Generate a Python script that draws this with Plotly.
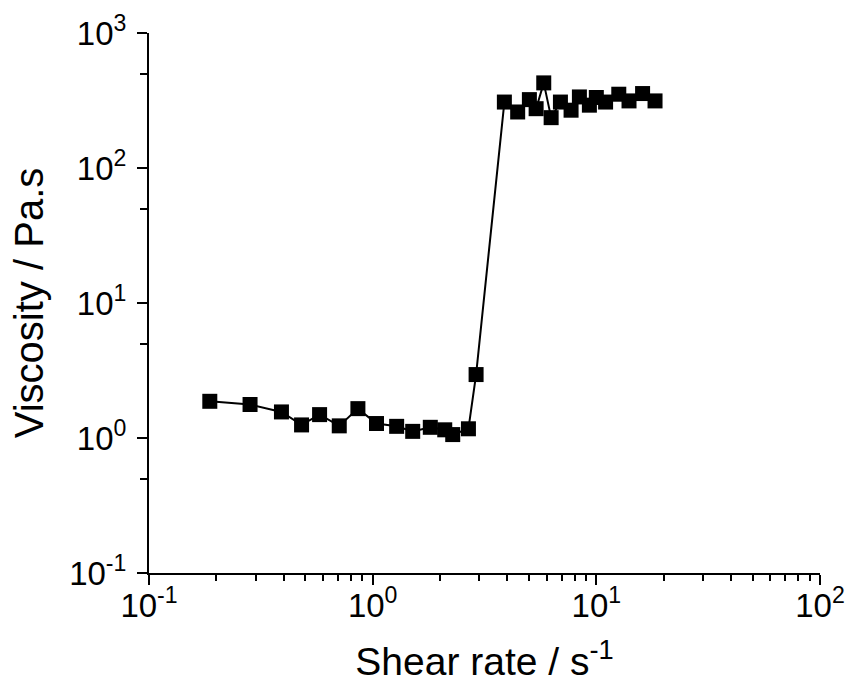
import plotly.graph_objects as go

shear_rate = [0.187, 0.283, 0.391, 0.481, 0.579, 0.709, 0.859, 1.04, 1.28, 1.51,
              1.81, 2.10, 2.28, 2.68, 2.90,
              3.88, 4.45, 5.02, 5.38, 5.82, 6.28, 6.91, 7.71, 8.40, 9.31,
              10.0, 11.0, 12.6, 14.0, 16.1, 18.3]
viscosity = [1.87, 1.77, 1.56, 1.25, 1.49, 1.23, 1.65, 1.28, 1.22, 1.12,
             1.20, 1.15, 1.06, 1.17, 2.95,
             308, 260, 321, 275, 427, 236, 308, 268, 336, 292,
             333, 308, 352, 314, 356, 314]

x_tickvals = [0.1, 1, 10, 100]
x_ticktext = ["10<sup>-1</sup>", "10<sup>0</sup>", "10<sup>1</sup>", "10<sup>2</sup>"]
x_minor = [0.2, 0.3, 0.4, 0.5, 0.6, 0.7, 0.8, 0.9,
           2, 3, 4, 5, 6, 7, 8, 9,
           20, 30, 40, 50, 60, 70, 80, 90]
y_tickvals = [0.1, 1, 10, 100, 1000]
y_ticktext = ["10<sup>-1</sup>", "10<sup>0</sup>", "10<sup>1</sup>", "10<sup>2</sup>", "10<sup>3</sup>"]
y_minor = [0.5, 5, 50, 500]

FONT = "Liberation Sans, Arial, sans-serif"

fig = go.Figure()
fig.add_trace(go.Scatter(
    x=shear_rate, y=viscosity, mode="lines+markers",
    line=dict(color="black", width=2),
    marker=dict(symbol="square", size=15, color="black"),
    showlegend=False,
))

axis_common = dict(
    type="log", showline=True, linecolor="black", linewidth=2,
    ticks="outside", ticklen=10, tickwidth=2, tickcolor="black",
    showgrid=False, zeroline=False, mirror=False, automargin=False,
    tickfont=dict(family=FONT, size=33, color="black"),
    tickmode="array",
)

fig.update_layout(
    width=848, height=687,
    margin=dict(l=149, r=28, t=33, b=114),
    paper_bgcolor="white", plot_bgcolor="white",
    font=dict(family=FONT, color="black"),
    xaxis=dict(
        **axis_common, range=[-1, 2],
        tickvals=x_tickvals, ticktext=x_ticktext,
        ticklabelstandoff=-8,
        minor=dict(ticks="outside", ticklen=6, tickwidth=2, tickcolor="black",
                   tickmode="array", tickvals=x_minor, showgrid=False),
        title=dict(text="Shear rate / s<sup>-1</sup>",
                   font=dict(family=FONT, size=39, color="black"), standoff=25),
    ),
    yaxis=dict(
        **axis_common, range=[-1, 3],
        tickvals=y_tickvals, ticktext=y_ticktext,
        ticklabelstandoff=4,
        minor=dict(ticks="outside", ticklen=7, tickwidth=2, tickcolor="black",
                   tickmode="array", tickvals=y_minor, showgrid=False),
        title=dict(text="Viscosity / Pa.s",
                   font=dict(family=FONT, size=40, color="black"), standoff=13),
    ),
)

fig.write_html(
    "out.html",
    config={"displayModeBar": False},
    post_script="document.body.style.margin='0';document.body.style.overflow='hidden';",
)
